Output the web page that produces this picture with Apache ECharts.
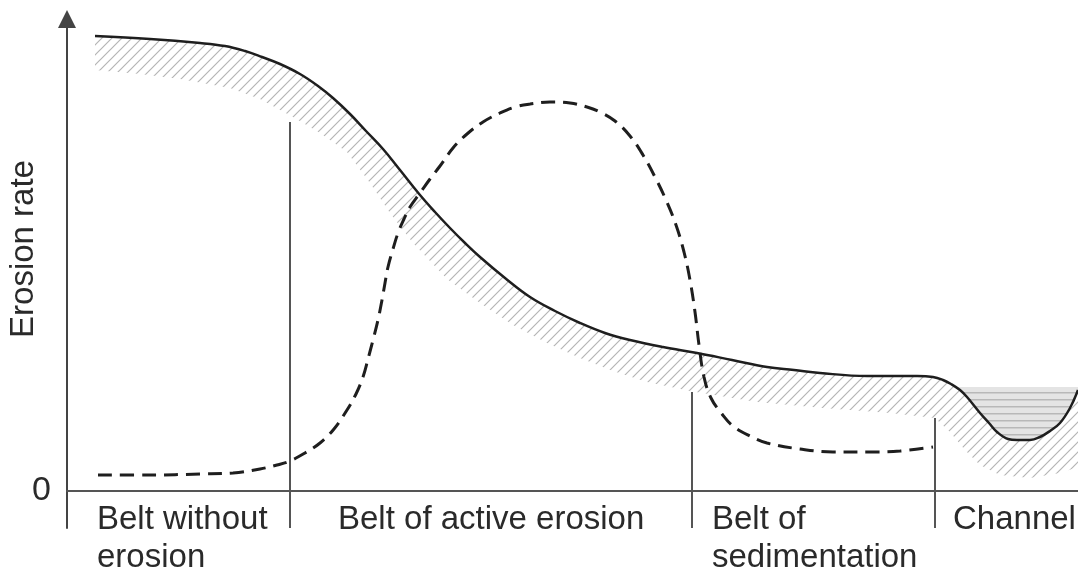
<!DOCTYPE html>
<html><head><meta charset="utf-8">
<script src="https://cdn.jsdelivr.net/npm/echarts@6/dist/echarts.min.js"></script>
<style>html,body{margin:0;padding:0;background:#fff}#c{width:1078px;height:575px}</style>
</head><body><div id="c"></div>
<script>
// distance along slope (x) and erosion rate (y)
const solidCurve = [[28,455],[83,452],[133,448],[158,445],[178,440],[195,434],[213,427],[233,417],[251,405],[266,393],[283,377],[299,360],[316,342],[333,321],[353,296],[368,279],[383,263],[398,248],[413,234],[438,213],[463,194],[488,180],[513,168],[538,158],[563,151],[596,144],[630,138],[665,131],[700,124],[727,121],[753,118],[800,115],[850,115],[866,114],[876,111],[884,107],[893,101],[900,94],[913,78],[922,68],[930,59],[941,52],[950,51],[963,51],[973,54],[983,60],[993,68],[1003,83],[1011,101]];
const bandLower = [[28,421],[73,417],[113,412],[163,403],[193,392],[226,374],[253,358],[280,339],[303,308],[323,278],[346,248],[380,212],[413,188],[446,166],[480,148],[513,133],[546,120],[580,109],[623,100],[690,89],[756,83],[823,78],[868,73],[883,59],[898,41],[913,26],[933,16],[963,13],[993,18],[1011,24]];
const dashedCurve = [[31,16],[83,16],[133,17],[166,18],[193,22],[210,26],[223,30],[238,38],[253,48],[267,62],[280,81],[289,97],[296,114],[301,132],[306,151],[311,171],[315,191],[318,208],[321,224],[326,242],[331,258],[337,272],[343,284],[353,298],[363,312],[373,325],[386,343],[400,357],[416,369],[433,378],[448,384],[463,387],[483,389],[503,388],[520,384],[533,379],[548,370],[563,355],[576,336],[588,314],[599,291],[609,266],[617,239],[623,211],[628,179],[632,146],[637,114],[644,93],[655,77],[666,65],[683,55],[700,48],[733,42],[766,39],[803,39],[833,40],[866,44]];
const separators = [[223,369],[625,99],[868,73]];
const waterLevel = 104;
const waterLeftX = 890;
const xMin = 0, xMax = 1011, yMin = -37, yMax = 472;
const yTickValues = [0];
const yName = 'Erosion rate';
const regionLabels = ['Belt without\nerosion', 'Belt of active erosion', 'Belt of\nsedimentation', 'Channel'];
const regionLabelX = [97, 338, 712, 953];

const FONT = "'Liberation Sans', Arial, Helvetica, sans-serif";
const TXT = '#2a2a2a';

function hatch() {
  const c = document.createElement('canvas'); c.width = 10; c.height = 10;
  const g = c.getContext('2d');
  g.strokeStyle = '#b5b5b5'; g.lineWidth = 1.2;
  g.beginPath();
  g.moveTo(-5,5); g.lineTo(5,-5);
  g.moveTo(0,10); g.lineTo(10,0);
  g.moveTo(5,15); g.lineTo(15,5);
  g.stroke();
  return c;
}
function water() {
  const c = document.createElement('canvas'); c.width = 8; c.height = 7;
  const g = c.getContext('2d');
  g.fillStyle = '#e4e4e4'; g.fillRect(0,0,8,7);
  g.fillStyle = '#b8b8b8'; g.fillRect(0,0,8,1.5);
  return c;
}
const hatchPattern = {image: hatch(), repeat: 'repeat'};
const waterPattern = {image: water(), repeat: 'repeat'};

const chart = echarts.init(document.getElementById('c'), null, {renderer: 'canvas'});
chart.setOption({
  animation: false,
  backgroundColor: '#fff',
  grid: {left: 67, right: 0, top: 19, bottom: 47},
  xAxis: {
    type: 'value', min: xMin, max: xMax,
    axisLine: {show: true, onZero: true, lineStyle: {color: '#555', width: 2}},
    axisTick: {show: false}, axisLabel: {show: false}, splitLine: {show: false}
  },
  yAxis: {
    type: 'value', min: yMin, max: yMax,
    axisLine: {show: true, symbol: ['none', 'triangle'], symbolSize: [18, 18], lineStyle: {color: '#444', width: 2}},
    axisTick: {show: false}, splitLine: {show: false},
    axisLabel: {show: true, customValues: yTickValues, fontSize: 34, fontFamily: FONT, color: TXT, margin: 16}
  },
  graphic: [
    {type: 'text', x: 24, y: 249, rotation: Math.PI / 2,
     style: {text: yName, font: '33px ' + FONT, fill: TXT, align: 'center', verticalAlign: 'middle'}}
  ].concat(regionLabels.map((t, i) => ({
    type: 'text', x: regionLabelX[i], y: 501,
    style: {text: t, font: '33px ' + FONT, fill: TXT, lineHeight: 38, align: 'left', verticalAlign: 'top'}
  }))),
  series: [
    {
      type: 'custom', z: 1, data: [[0, 0]], clip: false, silent: true,
      renderItem: (params, api) => {
        const pts = solidCurve.map(p => api.coord(p)).concat(bandLower.slice().reverse().map(p => api.coord(p)));
        return {type: 'polygon', shape: {points: pts}, style: {fill: hatchPattern, stroke: null}};
      }
    },
    {
      type: 'custom', z: 2, data: [[0, 0]], clip: false, silent: true,
      renderItem: (params, api) => {
        const poly = [[waterLeftX, waterLevel]].concat(solidCurve.filter(p => p[0] > waterLeftX)).concat([[xMax, waterLevel]]);
        return {type: 'polygon', shape: {points: poly.map(p => api.coord(p))}, style: {fill: waterPattern, stroke: null}};
      }
    },
    {
      type: 'custom', z: 3, data: separators, clip: false, silent: true,
      renderItem: (params, api) => {
        const top = api.coord([api.value(0), api.value(1)]);
        const bot = api.coord([api.value(0), yMin]);
        return {type: 'line', shape: {x1: top[0], y1: top[1], x2: bot[0], y2: bot[1]}, style: {stroke: '#555', lineWidth: 2}};
      }
    },
    {
      type: 'line', z: 5, data: solidCurve, smooth: 0.4, symbol: 'none',
      lineStyle: {color: '#1e1e1e', width: 2.5}
    },
    {
      type: 'line', z: 5, data: dashedCurve, smooth: 0.4, symbol: 'none',
      lineStyle: {color: '#1e1e1e', width: 3, type: [14, 8]}
    }
  ]
});
</script>
</body></html>
